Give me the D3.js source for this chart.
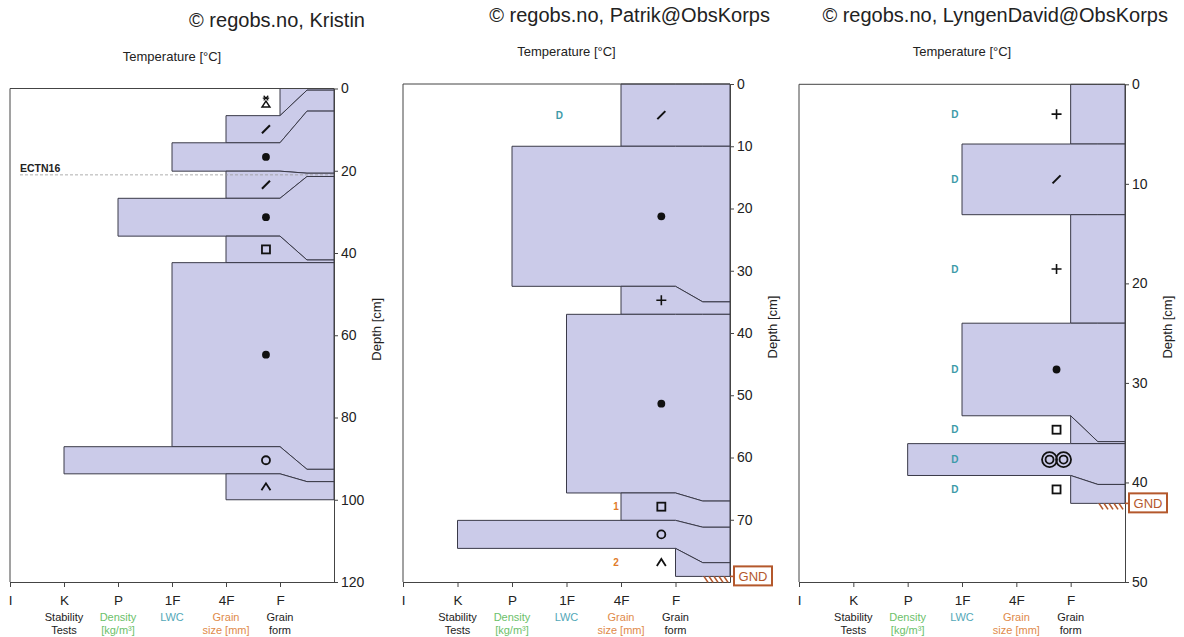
<!DOCTYPE html>
<html lang="en">
<head>
<meta charset="UTF-8">
<title>snow profiles</title>
<script src="https://cdn.jsdelivr.net/npm/d3@7"></script>
<style>
    body{ margin:0; background:#fff; }
    svg{ font-family:"Liberation Sans", Arial, sans-serif; }
</style>
</head>
<body>
<script type="text/javascript">

    // ---- data ----
    let titles = ["© regobs.no, Kristin", "© regobs.no, Patrik@ObsKorps", "© regobs.no, LyngenDavid@ObsKorps"];
    let hardnessLabels = ["I", "K", "P", "1F", "4F", "F"];
    let columnNames = [["Stability", "Tests"], ["Density", "[kg/m³]"], ["LWC"], ["Grain", "size [mm]"], ["Grain", "form"]];

    // profile 1 (Kristin): drawn boundaries vs. real boundaries (cm)
    let p1Shown = [0, 6.6, 13.2, 20.1, 26.7, 35.9, 42.35, 87.1, 93.7, 100];
    let p1Real = [0, 0.4, 5.5, 20.6, 21.4, 41.7, 42.35, 92.6, 95.6, 100];
    let p1Hardness = ["F", "4F", "1F", "4F", "P", "4F", "1F", "K", "4F"];
    let p1Grain = ["PPgp", "DF", "RG", "DF", "RG", "FC", "RG", "MF", "DH"];
    let p1Lwc = ["", "", "", "", "", "", "", "", ""];
    let p1Size = ["", "", "", "", "", "", "", "", ""];
    let p1Range = [0, 120];
    let p1Ticks = [0, 20, 40, 60, 80, 100, 120];
    let p1Tests = [{ label: "ECTN16", depth: 21 }];

    // profile 2 (Patrik)
    let p2Shown = [0, 10, 32.5, 37.0, 65.7, 70.1, 74.6, 79.1];
    let p2Real = [0, 10, 35.0, 37.0, 67.0, 71.2, 76.9, 79.1];
    let p2Hardness = ["4F", "P", "4F", "1F", "4F", "K", "F"];
    let p2Grain = ["DF", "RG", "PP", "RG", "FC", "MF", "DH"];
    let p2Lwc = ["D", "", "", "", "", "", ""];
    let p2Size = ["", "", "", "", "1", "", "2"];
    let p2Range = [0, 80];
    let p2Ticks = [0, 10, 20, 30, 40, 50, 60, 70];

    // profile 3 (LyngenDavid)
    let p3Shown = [0, 6.0, 13.1, 24.0, 33.3, 36.1, 39.3, 42.1];
    let p3Real = [0, 6.0, 13.1, 24.0, 35.9, 36.1, 40.2, 42.1];
    let p3Hardness = ["F", "1F", "F", "1F", "F", "P", "F"];
    let p3Grain = ["PP", "DF", "PP", "RG", "FC", "MFcl", "FC"];
    let p3Lwc = ["D", "D", "D", "D", "D", "D", "D"];
    let p3Size = ["", "", "", "", "", "", ""];
    let p3Range = [0, 50];
    let p3Ticks = [0, 10, 20, 30, 40, 50];

    let profiles = [
        { shown: p1Shown, real: p1Real, hardness: p1Hardness, grain: p1Grain, lwc: p1Lwc, size: p1Size, range: p1Range, ticks: p1Ticks, tests: p1Tests, ground: false },
        { shown: p2Shown, real: p2Real, hardness: p2Hardness, grain: p2Grain, lwc: p2Lwc, size: p2Size, range: p2Range, ticks: p2Ticks, tests: [], ground: true },
        { shown: p3Shown, real: p3Real, hardness: p3Hardness, grain: p3Grain, lwc: p3Lwc, size: p3Size, range: p3Range, ticks: p3Ticks, tests: [], ground: true }
    ];

    // ---- layout ----
    let panels = [
        { left: 10, right: 334, top: 88.5, bottom: 582, titleX: 365, titleY: 27 },
        { left: 403, right: 730, top: 84, bottom: 582, titleX: 770, titleY: 22 },
        { left: 799, right: 1125, top: 84.3, bottom: 582, titleX: 1168, titleY: 22 }
    ];
    let fillColor = "#cbcbe9";
    let edgeColor = "#3a3a48";
    let axisColor = "#444";
    let columnColors = ["#222", "#6cc16a", "#53a8b8", "#e08a4a", "#222"];

    let svg = d3.select("body").append("svg")
        .attr("width", 1184)
        .attr("height", 637);

    let symbolLine = d3.line();

    function drawGrain(g, code) {
        let s = g.append("g").attr("fill", "none").attr("stroke", "#111").attr("stroke-width", 1.8);
        if (code == "PP") {
            s.append("path").attr("d", "M-5,0H5M0,-5V5").attr("stroke-width", 1.6);
        } else if (code == "DF") {
            s.append("path").attr("d", "M-4,4L4,-4").attr("stroke-width", 2);
        } else if (code == "RG") {
            s.append("circle").attr("r", 3.9).attr("fill", "#111").attr("stroke", "none");
        } else if (code == "FC") {
            s.append("rect").attr("x", -4).attr("y", -4).attr("width", 8).attr("height", 8);
        } else if (code == "MF") {
            s.append("circle").attr("r", 4);
        } else if (code == "DH") {
            s.append("path").attr("d", "M-4.5,3.5L0,-3.5L4.5,3.5");
        } else if (code == "MFcl") {
            [-7, 7].forEach(cx => {
                s.append("circle").attr("cx", cx).attr("r", 7.5);
                s.append("circle").attr("cx", cx).attr("r", 4);
            });
        } else if (code == "PPgp") {
            s.append("path").attr("d", "M-4,5L4,5L0,-1Z").attr("stroke-width", 1.4);
            s.append("path").attr("d", "M-3.2,-4H3.2M-2.3,-6.3L2.3,-1.7M2.3,-6.3L-2.3,-1.7").attr("stroke-width", 1.2);
        }
    }

    profiles.forEach((p, k) => {
        let pan = panels[k];
        let n = p.hardness.length;
        let maxDepth = p.range[1];

        let x = d3.scaleLinear().domain([0, 6]).range([pan.left, pan.right]);
        let y = d3.scaleLinear().domain(p.range).range([pan.top, pan.bottom]);
        let g = svg.append("g");

        // title and column header
        svg.append("text")
            .attr("x", pan.titleX).attr("y", pan.titleY)
            .attr("text-anchor", "end")
            .attr("font-size", 20)
            .attr("fill", "#222")
            .text(titles[k]);
        g.append("text")
            .attr("x", (pan.left + pan.right) / 2).attr("y", pan.top - 28)
            .attr("text-anchor", "middle")
            .attr("font-size", 13)
            .attr("fill", "#222")
            .text("Temperature [°C]");

        // layers
        for (let i = 0; i < n; i++) {
            let h = hardnessLabels.indexOf(p.hardness[i]);
            let pts = [
                [x(h), y(p.shown[i])], [x(5), y(p.shown[i])], [x(5.5), y(p.real[i])], [x(6), y(p.real[i])],
                [x(6), y(p.real[i + 1])], [x(5.5), y(p.real[i + 1])], [x(5), y(p.shown[i + 1])], [x(h), y(p.shown[i + 1])]
            ];
            g.append("path")
                .attr("d", symbolLine(pts) + "Z")
                .attr("fill", fillColor)
                .attr("stroke", edgeColor)
                .attr("stroke-width", 1);
        }

        // stability tests
        p.tests.forEach(t => {
            g.append("line")
                .attr("x1", x(0) + 10).attr("x2", x(6))
                .attr("y1", y(t.depth)).attr("y2", y(t.depth))
                .attr("stroke", "#999").attr("stroke-width", 0.8)
                .attr("stroke-dasharray", "3,2");
            g.append("text")
                .attr("x", x(0) + 10).attr("y", y(t.depth) - 3)
                .attr("font-size", 10.5).attr("font-weight", "bold")
                .attr("fill", "#222")
                .text(t.label);
        });

        // grain forms, LWC and grain size marks at layer mid
        for (let i = 0; i < n; i++) {
            let mid = y((p.shown[i] + p.shown[i + 1]) / 2);
            drawGrain(g.append("g").attr("transform", `translate(${x(4.74)},${mid})`), p.grain[i]);
            if (p.lwc[i]) {
                g.append("text")
                    .attr("x", x(2.87)).attr("y", mid).attr("dy", "0.36em")
                    .attr("text-anchor", "middle")
                    .attr("font-size", 10).attr("font-weight", "bold")
                    .attr("fill", "#3d9aa8")
                    .text(p.lwc[i]);
            }
            if (p.size[i]) {
                g.append("text")
                    .attr("x", x(3.91)).attr("y", mid).attr("dy", "0.36em")
                    .attr("text-anchor", "middle")
                    .attr("font-size", 10).attr("font-weight", "bold")
                    .attr("fill", "#e07b2a")
                    .text(p.size[i]);
            }
        }

        // frame
        g.append("path")
            .attr("d", `M${x(6)},${y(0)}H${x(0)}V${y(maxDepth)}`)
            .attr("fill", "none").attr("stroke", axisColor).attr("stroke-width", 1);

        // hardness axis
        let xAxis = d3.axisBottom(x)
            .tickValues(d3.range(6))
            .tickFormat(i => hardnessLabels[i])
            .tickSize(5).tickSizeOuter(0).tickPadding(8);
        let xg = g.append("g").attr("transform", `translate(0,${y(maxDepth)})`);
        xAxis(xg);
        xg.selectAll("text").attr("font-size", 13.5).attr("fill", "#222").attr("font-family", null);
        xg.selectAll("line,path").attr("stroke", axisColor);

        columnNames.forEach((lines, c) => {
            lines.forEach((s, r) => {
                g.append("text")
                    .attr("x", x(c + 1)).attr("y", y(maxDepth) + 39 + r * 13)
                    .attr("text-anchor", "middle")
                    .attr("font-size", 11)
                    .attr("fill", columnColors[c])
                    .text(s);
            });
        });

        // depth axis (ticks to the right, domain spans whole range)
        let yAxis = d3.axisRight(y).tickValues(p.ticks).tickSize(4).tickSizeOuter(0).tickPadding(3);
        let yg = g.append("g").attr("transform", `translate(${x(6)},0)`);
        yAxis(yg);
        yg.selectAll("text").attr("font-size", 14).attr("fill", "#222").attr("font-family", null);
        yg.selectAll("line,path").attr("stroke", axisColor);

        g.append("text")
            .attr("transform", `translate(${x(6) + 47},${(pan.top + pan.bottom) / 2 - 6}) rotate(-90)`)
            .attr("text-anchor", "middle")
            .attr("font-size", 13)
            .attr("fill", "#222")
            .text("Depth [cm]");

        // ground marker
        if (p.ground) {
            let gy = y(p.real[n]);
            let gx = x(6);
            let brown = "#b4582c";
            d3.range(5).forEach(j => {
                g.append("line")
                    .attr("x1", gx - 26 + j * 5).attr("y1", gy)
                    .attr("x2", gx - 22 + j * 5).attr("y2", gy + 6)
                    .attr("stroke", brown).attr("stroke-width", 1.6);
            });
            g.append("line")
                .attr("x1", gx).attr("x2", gx + 4).attr("y1", gy).attr("y2", gy)
                .attr("stroke", brown).attr("stroke-width", 1.6);
            g.append("rect")
                .attr("x", gx + 4).attr("y", gy - 10)
                .attr("width", 38).attr("height", 19)
                .attr("fill", "#fff").attr("stroke", brown).attr("stroke-width", 2);
            g.append("text")
                .attr("x", gx + 23).attr("y", gy).attr("dy", "0.36em")
                .attr("text-anchor", "middle")
                .attr("font-size", 13)
                .attr("fill", brown)
                .text("GND");
        }
    });
</script>
</body>
</html>
